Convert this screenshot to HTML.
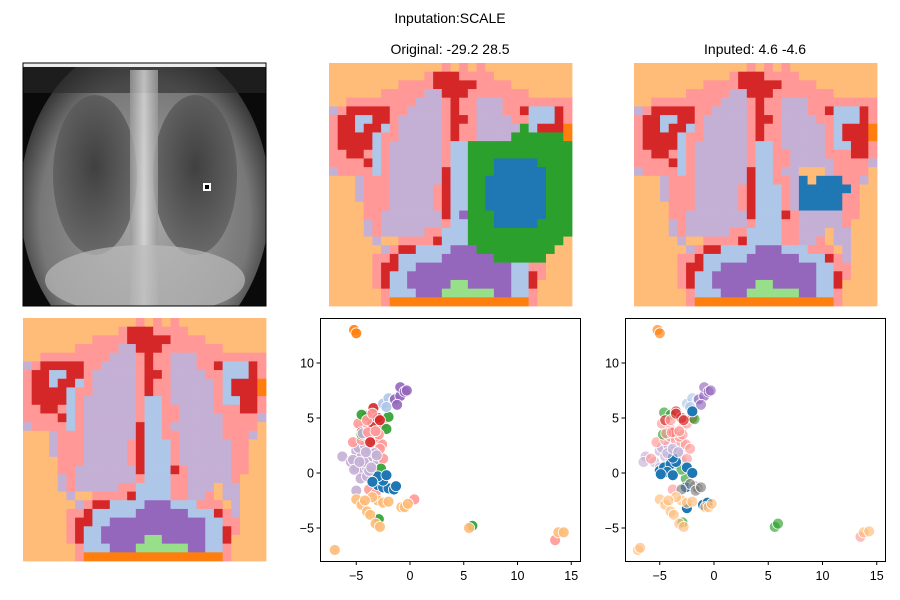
<!DOCTYPE html>
<html><head><meta charset="utf-8"><style>
body{margin:0;background:#fff;font-family:"Liberation Sans",sans-serif;}
#root{position:relative;width:900px;height:600px;overflow:hidden;}
.t{position:absolute;font-size:14px;color:#000;white-space:nowrap;transform:translateX(-50%);}
</style></head><body>
<div id="root">
<div class="t" style="left:450px;top:10px">Inputation:SCALE</div>
<div class="t" style="left:450px;top:41px">Original: -29.2 28.5</div>
<div class="t" style="left:755px;top:41px">Inputed: 4.6 -4.6</div>
<svg width="900" height="600" style="position:absolute;left:0;top:0" id="svg">
 <defs>
  <clipPath id="xc"><rect x="23" y="63" width="243" height="243"/></clipPath>
  <radialGradient id="body" cx="0.5" cy="0.55" r="0.6">
   <stop offset="0" stop-color="#aaa"/><stop offset="0.7" stop-color="#777"/><stop offset="1" stop-color="#111"/>
  </radialGradient>
  <radialGradient id="lung" cx="0.5" cy="0.45" r="0.6">
   <stop offset="0" stop-color="#333"/><stop offset="1" stop-color="#666"/>
  </radialGradient>
  <linearGradient id="spine" x1="0" x2="1"><stop offset="0" stop-color="#999"/><stop offset="0.5" stop-color="#ddd"/><stop offset="1" stop-color="#999"/></linearGradient>
 </defs>
 <g id="xray" clip-path="url(#xc)">
  <rect x="23" y="63" width="243" height="243" fill="#0a0a0a"/>
  <ellipse cx="145" cy="200" rx="125" ry="160" fill="url(#body)"/>
  <rect x="23" y="63" width="243" height="30" fill="#2a2a2a" opacity="0.6"/>
  <rect x="23" y="63" width="243" height="4" fill="#eee"/>
  <ellipse cx="95" cy="175" rx="42" ry="80" fill="url(#lung)" opacity="0.85"/>
  <ellipse cx="195" cy="175" rx="42" ry="80" fill="url(#lung)" opacity="0.85"/>
  <rect x="130" y="70" width="28" height="236" fill="url(#spine)" opacity="0.8"/>
  <ellipse cx="145" cy="280" rx="100" ry="35" fill="#bbb" opacity="0.7"/>
  <rect x="203" y="183" width="8" height="8" fill="#fff"/>
  <rect x="205" y="185" width="4" height="4" fill="#000"/>
 </g>
 <rect x="23" y="63" width="243" height="243" fill="none" stroke="#000" stroke-width="1"/>
 <g id="maps"></g>
 <g id="sc"></g>
</svg>
</div>
<script>
const NS="http://www.w3.org/2000/svg";
function mk(tag,attrs,parent){const e=document.createElementNS(NS,tag);for(const k in attrs)e.setAttribute(k,attrs[k]);parent.appendChild(e);return e;}
const COL={o:'#ffbb78',p:'#ff9896',r:'#d62728',l:'#c5b0d5',b:'#aec7e8',u:'#9467bd',g:'#98df8a',O:'#ff7f0e',G:'#2ca02c',B:'#1f77b4',k:'#7f7f7f'};
function R(s){return s.replace(/([a-zA-Z])(\d+)/g,(m,c,n)=>c.repeat(+n));}
const base=[
"o13popopo10","o11pr3p4o9","o8p4r5p4o7","o6p5l2r3p7o5","o2p8l3prp2l3p8",
"lpr5p2l4prp2l3p2rb3rp","pr2b2r2pl5pr2pl4p2b3rp","pr2br2bpl5prp2l5pbr3O","pr4bp2l5prp2l5pbr3O",
"pr4bpl6pb2pl5pb2r2p","p2r2pbpl6pb2p2l4p3r2p","p4rbpl6pb2p2l5p4l","lp4bpl6rb2pl6p4o",
"o3lp3l6rb2p2l5p3lo","o3lp3l5prb3pl6p2o2","o3lp3l5prb3pl6p2o2","o4p3l5prb3pl6p2o2",
"o4p2l7rb3rpl5p2o2","o4lpl7pb3p2l5po3","o4lpl5p2b4p2l3ol2o3","o5lo2p4rb4p2l2pol2o3",
"o6lpr2b4u3b3p3olo3","o5p2rb5u6b3rplo3","o5pr2b2u11b2p2o3","o5prb2u12b2rpo3",
"o5prb2u5g2u5b2ro4","o6pb3u3g6u2b2po4","o6pO16po4"].map(R);
function normRow(s){s=s.split('');while(s.length<28)s.push('o');return s.slice(0,28);}
function mapGrid(over){const g=base.map(normRow);over(g);return g;}
function fill(g,r,c0,c1,ch){for(let c=c0;c<=c1;c++)g[r][c]=ch;}
const baseGrid=mapGrid(g=>{});
const origGrid=mapGrid(g=>{
 fill(g,7,22,22,'G');fill(g,8,21,26,'G');
 for(let r=9;r<=19;r++)fill(g,r,16,27,'G');
 fill(g,20,16,26,'G');fill(g,21,17,25,'G');fill(g,22,19,24,'G');
 fill(g,11,19,23,'B');fill(g,12,19,24,'B');for(let r=13;r<=16;r++)fill(g,r,18,24,'B');
 fill(g,17,19,24,'B');fill(g,18,19,23,'B');g[17][15]='u';
});
const inpGrid=mapGrid(g=>{
 fill(g,12,19,21,'o');fill(g,13,19,19,'B');fill(g,13,21,23,'B');fill(g,13,20,20,'o');
 fill(g,14,19,24,'B');fill(g,15,19,23,'B');fill(g,16,19,23,'B');
});
const maps=document.getElementById('maps');
function drawMap(grid,x0,y0,name){
 const gg=mk('g',{},maps);
 
 
 const cs=243/28;
 grid.forEach((row,ri)=>row.forEach((ch,ci)=>{
  mk('rect',{x:(x0+ci*cs).toFixed(2),y:(y0+ri*cs).toFixed(2),width:(cs+0.4).toFixed(2),height:(cs+0.4).toFixed(2),fill:COL[ch]||COL.o},gg);
 }));
}
drawMap(origGrid,329,63,'original-segmentation-map');
drawMap(inpGrid,634,63,'inputed-segmentation-map');
drawMap(baseGrid,23,318,'reference-segmentation-map');

const xTicks=[-5,0,5,10,15];
const yTicks=[-5,0,5,10];
const leftX=[-5.2,-5,-6.3,-5.5,-5,-4.5,-4,-3.5,-5,-4.5,-4,-3.5,-3,-4.8,-4.2,-3.7,-3.2,-5.3,-4.6,-4,-3.3,-5,
 -5.3,-4.5,-4,-3.5,-3,-2.6,-3.2,-4.8,-4,-3,-2.5,-2.5,-3.8,-3.2,0.4,13.5,-2.8,
 -3.4,-4,-3.5,-4.5,-3,-4.5,-2,-2.2,-2.7,-4.5,-2.9,5.8,
 -2.5,-2,-1.5,-2.2,-1,-1.4,-0.9,-0.9,-0.5,-1.2,-0.3,
 -3,-2.5,-2,-1.5,-2.5,-3,-3.5,-2.2,-1.3,
 -5,-4.5,-4,-3.7,-3.2,-3,-2.5,-2,-3.5,-0.8,-0.5,-0.2,5.5,13.8,14.3,-7,-2.8,-4.2,
 -4.3,-3.8,-3.3,-5.2,-4.7,-4.1,-3.6,-3.1,-4.4,-3.9,-2.9,-4,-3.5,-2.8,-3.7,-3.2];
const leftY=[13,12.7,1.5,1,0.5,0.2,0.5,0.8,2,1.5,1.2,1.5,1.2,2.3,2.5,2,2,1.2,-0.5,-0.3,0.3,-1.6,
 2.8,3,3.3,3,2.8,2.6,3.3,4.5,4,4,4.5,1.3,-1.5,-1.9,-2.4,-6.1,2.2,
 5.9,5.2,4.5,3.7,5,5.3,5.1,4,0.4,3.5,-4.2,-4.8,
 6.3,6.8,6.6,6,7,6.7,7,7.8,7.4,6.2,7.5,
 -1.1,-1.3,-1.4,-1.5,-0.7,-0.3,-0.8,-0.2,-1.2,
 -2.4,-2.9,-3.5,-3.8,-4.6,-2.5,-2.7,-2.6,-2.2,-3.1,-3.1,-2.8,-5,-5.4,-5.4,-7,-4.9,-2.5,
 1,0.2,1.8,0.3,1,1.9,0.5,1.6,3.6,3.7,3.5,4.8,5.4,4.8,2.8,3.8];
const leftC="OOllllllllllllllllllllppppppppppppppppprrrrrGGGGGGGbbbbbuuuuuuBBBBBBBBBoooooooooooooooooolllllllllpppprrpp";
const rightX=[-5.2,-5,-6.3,-5.5,-5,-4.5,-4,-3.5,-5,-4.5,-4,-3.5,-3,-4.8,-4.2,-3.7,-3.2,-6.5,
 -5.3,-4.5,-4,-3.5,-3,-2.6,-3.2,-4.8,-4,-3,-2.5,-2.5,13.5,-2.2,-3.8,-5.8,
 -4.6,-4,-3.5,-4.5,-3,-3.7,-2,-1.8,-4.7,-2.6,-3,-2.9,5.6,5.9,
 -2.5,-2,-1.5,-2.2,-1,-1.4,-0.9,-0.9,-0.5,-1.2,-0.3,
 -5,-4.6,-4,-3.5,-3.8,-4.3,-2.5,-2,-2.6,-2.5,-1,-0.6,-2,-3.8,-4.9,
 -1.8,-1.5,-2.2,-1.7,-3,-1.2,
 -5,-4.5,-4,-3.7,-3.2,-3,-2.5,-2,-3.5,-0.8,-0.5,-0.2,13.8,14.3,-7,-2.8,-4.2,-6.8,
 -4.3,-3.8,-3.3,-4.4,-3.9,-2.9,-4,-3.5,-2.8,-3.2];
const rightY=[13,12.7,1.5,1,0.5,0.2,0.5,0.8,2,1.5,1.2,1.5,1.2,2.3,2.5,2,2,1,
 2.8,3,3.3,3,2.8,2.6,3.3,4.5,4,4,4.5,1.3,-5.8,2.2,-1.5,1.3,
 5.5,5.3,5.6,4.8,5,3.7,5,4.9,3.5,-0.5,0.3,-4.5,-4.9,-4.6,
 6.3,6.8,6.6,6,7,6.7,7,7.8,7.4,6.2,7.5,
 0.2,0.5,0.8,1,1.4,0.1,0.5,0,-1.3,-3.2,-2.9,-2.7,5.6,-0.2,-0.1,
 -1.2,-1.4,-1,-1.6,-1.5,-1.3,
 -2.4,-2.9,-3.5,-3.8,-4.6,-2.5,-2.7,-2.6,-2.2,-3.1,-3.1,-2.8,-5.4,-5.3,-7,-4.9,-2.5,-6.8,
 1.8,2.2,1.9,3.6,3.7,3.5,4.8,5.4,4.8,3.8];
const rightC="OOllllllllllllllllppppppppppppppppGGrrrrrGGGGGGGbbbbbuuuuuuBBBBBBBBBBBBBBBkkkkkkoooooooooooooooooolllpppprrp";

const sc=document.getElementById('sc');
function scatter(X,Y,C,box,x0px,xunit,name,alpha){
 const sx=v=>x0px+v*xunit, sy=v=>473-v*11;
 const g=mk('g',{},sc);
 
 
 mk('rect',{x:box[0],y:318,width:box[1]-box[0],height:243,fill:'#fff'},g);
 for(let i=0;i<X.length;i++){
  const c=mk('circle',{cx:sx(X[i]).toFixed(1),cy:sy(Y[i]).toFixed(1),r:5.5,fill:COL[C[i]]||'#ffbb78',stroke:'#fff','stroke-width':0.8,'fill-opacity':C[i]==='B'?1:alpha},g);
  
  
 }
 mk('rect',{x:box[0]+0.5,y:318.5,width:box[1]-box[0],height:243,fill:'none',stroke:'#000','stroke-width':1},g);
 xTicks.forEach(t=>{
  const x=sx(t);
  mk('line',{x1:x,x2:x,y1:561.5,y2:565,stroke:'#000'},g);
  const tx=mk('text',{x:x,y:580,'font-size':12.5,'text-anchor':'middle','font-family':'Liberation Sans, sans-serif'},g);
  tx.textContent=t<0?'\u2212'+(-t):String(t);
  
  
 });
 yTicks.forEach(t=>{
  const y=sy(t);
  mk('line',{x1:box[0]-3.5,x2:box[0]+0.5,y1:y,y2:y,stroke:'#000'},g);
  const tx=mk('text',{x:box[0]-6,y:y+4.5,'font-size':12.5,'text-anchor':'end','font-family':'Liberation Sans, sans-serif'},g);
  tx.textContent=t<0?'\u2212'+(-t):String(t);
  
  
 });
}
scatter(leftX,leftY,leftC,[320,580],410,10.75,'original-embedding-scatter',0.9);
scatter(rightX,rightY,rightC,[625,885],714,10.85,'inputed-embedding-scatter',0.65);
</script>
</body></html>
